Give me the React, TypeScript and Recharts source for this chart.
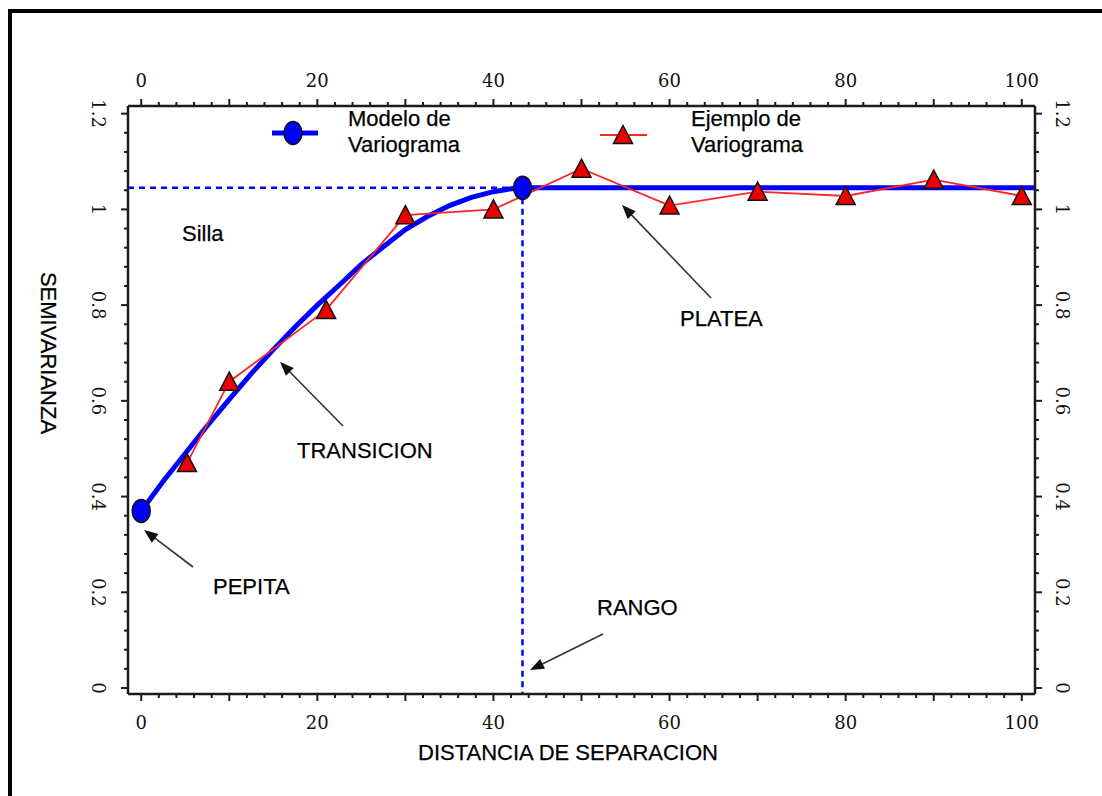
import React from 'react';
import { LineChart, Line, XAxis, YAxis } from 'recharts';

const W = 1102;
const H = 796;

// Spherical model: distance / semivariance
const MODEL_DIST = [0, 2.5, 5, 7.5, 10, 12.5, 15, 17.5, 20, 22.5, 25, 27.5, 30, 32.5, 35, 37.5, 40, 42, 43.3, 101.5];
const MODEL_GAMMA = [0.37, 0.432, 0.49, 0.548, 0.603, 0.657, 0.707, 0.755, 0.8, 0.842, 0.885, 0.922, 0.958, 0.985, 1.008, 1.025, 1.037, 1.043, 1.045, 1.045];
// Points of the model drawn with a circle (nugget and range)
const MODEL_MARKER_DIST = [0, 43.3];

// Experimental variogram
const SAMPLE_DIST = [5.2, 10, 21, 30, 40, 50, 60, 70, 80, 90, 100];
const SAMPLE_GAMMA = [0.47, 0.64, 0.79, 0.988, 1.0, 1.085, 1.008, 1.037, 1.028, 1.062, 1.028];

const SILL = 1.045;
const RANGE = 43.3;

const X_DOMAIN: [number, number] = [-1.5, 101.5];
const Y_DOMAIN: [number, number] = [-0.0125, 1.216];

const X_MAJOR = [0, 10, 20, 30, 40, 50, 60, 70, 80, 90, 100];
const X_LABELS = [0, 20, 40, 60, 80, 100];
const X_MINOR_STEP = 2;
const Y_MAJOR = [0, 0.2, 0.4, 0.6, 0.8, 1, 1.2];
const Y_LABELS = ['0', '0.2', '0.4', '0.6', '0.8', '1', '1.2'];
const Y_MINOR_STEP = 0.04;

const modelData = MODEL_DIST.map((d, i) => ({ d, g: MODEL_GAMMA[i] }));
const sampleData = SAMPLE_DIST.map((d, i) => ({ d, g: SAMPLE_GAMMA[i] }));
const sillData = [
  { d: X_DOMAIN[0], g: SILL },
  { d: RANGE, g: SILL },
];
const rangeData = [
  { d: RANGE, g: SILL },
  { d: RANGE, g: Y_DOMAIN[0] },
];

const buildTicks = (from: number, to: number, step: number) => {
  const out: number[] = [];
  const n = Math.round((to - from) / step);
  for (let i = 0; i <= n; i++) out.push(+(from + i * step).toFixed(6));
  return out;
};
const X_TICKS = buildTicks(X_MAJOR[0], X_MAJOR[X_MAJOR.length - 1], X_MINOR_STEP);
const Y_TICKS = buildTicks(Y_MAJOR[0], Y_MAJOR[Y_MAJOR.length - 1], Y_MINOR_STEP);

const AXIS_COLOR = '#1c1c1c';
const TICK_FONT = '"DejaVu Serif", "Liberation Serif", serif';
const TEXT_FONT = '"Liberation Sans", Arial, sans-serif';
const BLUE = '#0000ff';
const RED = '#ff2626';
const TRI_FILL = '#ee0000';

const near = (a: number, b: number) => Math.abs(a - b) < 1e-6;

const makeXTick = (side: 'top' | 'bottom') => (props: any) => {
  const { x, y, payload } = props;
  const v = payload.value as number;
  const major = X_MAJOR.some((m) => near(m, v));
  const len = major ? 7 : 4;
  const dir = side === 'top' ? -1 : 1;
  const label = X_LABELS.some((m) => near(m, v));
  return (
    <g>
      <line x1={x} y1={y} x2={x} y2={y + dir * len} stroke={AXIS_COLOR} strokeWidth={2} />
      {label && (
        <text
          x={x}
          y={side === 'top' ? y - 19 : y + 35}
          textAnchor="middle"
          fontFamily={TICK_FONT}
          fontSize={18}
          fill="#111"
        >
          {Math.round(v)}
        </text>
      )}
    </g>
  );
};

const makeYTick = (side: 'left' | 'right') => (props: any) => {
  const { x, y, payload } = props;
  const v = payload.value as number;
  const idx = Y_MAJOR.findIndex((m) => near(m, v));
  const major = idx >= 0;
  const len = major ? 7 : 4;
  const dir = side === 'left' ? -1 : 1;
  const cx = side === 'left' ? x - 30 : x + 27;
  return (
    <g>
      <line x1={x} y1={y} x2={x + dir * len} y2={y} stroke={AXIS_COLOR} strokeWidth={2} />
      {major && (
        <text
          x={cx}
          y={y}
          transform={`rotate(90, ${cx}, ${y})`}
          textAnchor="middle"
          dominantBaseline="central"
          fontFamily={TICK_FONT}
          fontSize={18}
          fill="#111"
        >
          {Y_LABELS[idx]}
        </text>
      )}
    </g>
  );
};

const CircleDot = (props: any) => {
  const { cx, cy, payload } = props;
  if (cx == null || cy == null) return null;
  if (!MODEL_MARKER_DIST.some((m) => near(m, payload.d))) return <g key={`c-${payload.d}`} />;
  return <ellipse key={`c-${payload.d}`} cx={cx} cy={cy} rx={9} ry={11.5} fill={BLUE} stroke="#111" strokeWidth={1.5} />;
};

const triPoints = (cx: number, cy: number) =>
  `${cx},${cy - 9.5} ${cx + 9.5},${cy + 8.5} ${cx - 9.5},${cy + 8.5}`;

const TriangleDot = (props: any) => {
  const { cx, cy, payload } = props;
  if (cx == null || cy == null) return null;
  return <polygon key={`t-${payload.d}`} points={triPoints(cx, cy)} fill={TRI_FILL} stroke="#111" strokeWidth={1.5} />;
};

const Arrow = ({ x1, y1, x2, y2 }: { x1: number; y1: number; x2: number; y2: number }) => {
  const dx = x2 - x1;
  const dy = y2 - y1;
  const L = Math.hypot(dx, dy);
  const ux = dx / L;
  const uy = dy / L;
  const head = 14;
  const half = 5.5;
  const bx = x2 - ux * head;
  const by = y2 - uy * head;
  return (
    <g>
      <line x1={x1} y1={y1} x2={bx + ux * 2} y2={by + uy * 2} stroke="#333" strokeWidth={1.6} />
      <polygon
        points={`${x2},${y2} ${bx - uy * half},${by + ux * half} ${bx + uy * half},${by - ux * half}`}
        fill="#111"
      />
    </g>
  );
};

const Label = ({ x, y, children }: { x: number; y: number; children: React.ReactNode }) => (
  <text x={x} y={y} fontFamily={TEXT_FONT} fontSize={22} fill="#000" stroke="#000" strokeWidth={0.25}>
    {children}
  </text>
);

export default function App() {
  return (
    <div
      style={{
        position: 'fixed',
        left: 0,
        top: 0,
        width: W,
        height: H,
        overflow: 'hidden',
        background: '#fff',
      }}
    >
      <div
        style={{
          position: 'absolute',
          left: 8,
          top: 9,
          width: W,
          height: H,
          border: '4px solid #000',
          boxSizing: 'border-box',
        }}
      />
      <div style={{ position: 'absolute', left: 0, top: 0 }}>
        <LineChart width={W} height={H} margin={{ top: 0, right: 0, bottom: 0, left: 0 }}>
          <XAxis
            xAxisId="bottom"
            dataKey="d"
            type="number"
            orientation="bottom"
            domain={X_DOMAIN}
            allowDataOverflow
            ticks={X_TICKS}
            interval={0}
            height={102}
            tickSize={0}
            tickMargin={0}
            tickLine={false}
            tick={makeXTick('bottom')}
            axisLine={{ stroke: AXIS_COLOR, strokeWidth: 2.5 }}
          />
          <XAxis
            xAxisId="top"
            dataKey="d"
            type="number"
            orientation="top"
            domain={X_DOMAIN}
            allowDataOverflow
            ticks={X_TICKS}
            interval={0}
            height={106}
            tickSize={0}
            tickMargin={0}
            tickLine={false}
            tick={makeXTick('top')}
            axisLine={{ stroke: AXIS_COLOR, strokeWidth: 2.5 }}
          />
          <YAxis
            yAxisId="left"
            type="number"
            orientation="left"
            domain={Y_DOMAIN}
            allowDataOverflow
            ticks={Y_TICKS}
            interval={0}
            width={128}
            tickSize={0}
            tickMargin={0}
            tickLine={false}
            tick={makeYTick('left')}
            axisLine={{ stroke: AXIS_COLOR, strokeWidth: 2.5 }}
          />
          <YAxis
            yAxisId="right"
            type="number"
            orientation="right"
            domain={Y_DOMAIN}
            allowDataOverflow
            ticks={Y_TICKS}
            interval={0}
            width={67}
            tickSize={0}
            tickMargin={0}
            tickLine={false}
            tick={makeYTick('right')}
            axisLine={{ stroke: AXIS_COLOR, strokeWidth: 2.5 }}
          />
          <Line
            xAxisId="bottom"
            yAxisId="left"
            data={sillData}
            dataKey="g"
            stroke={BLUE}
            strokeWidth={2.5}
            strokeDasharray="6 5"
            dot={false}
            activeDot={false}
            isAnimationActive={false}
          />
          <Line
            xAxisId="bottom"
            yAxisId="left"
            data={rangeData}
            dataKey="g"
            stroke={BLUE}
            strokeWidth={2.5}
            strokeDasharray="6 4.5"
            dot={false}
            activeDot={false}
            isAnimationActive={false}
          />
          <Line
            xAxisId="bottom"
            yAxisId="left"
            data={modelData}
            dataKey="g"
            type="linear"
            stroke={BLUE}
            strokeWidth={5}
            dot={CircleDot}
            activeDot={false}
            isAnimationActive={false}
          />
          <Line
            xAxisId="bottom"
            yAxisId="left"
            data={sampleData}
            dataKey="g"
            type="linear"
            stroke={RED}
            strokeWidth={1.8}
            dot={TriangleDot}
            activeDot={false}
            isAnimationActive={false}
          />
        </LineChart>
      </div>
      <svg
        width={W}
        height={H}
        style={{ position: 'absolute', left: 0, top: 0, pointerEvents: 'none' }}
      >
        {/* legend */}
        <line x1={272} y1={133} x2={318} y2={133} stroke={BLUE} strokeWidth={5} />
        <ellipse cx={293} cy={133} rx={9} ry={11.5} fill={BLUE} stroke="#111" strokeWidth={1.5} />
        <Label x={348} y={126}>Modelo de</Label>
        <Label x={348} y={152}>Variograma</Label>
        <line x1={600} y1={135} x2={647} y2={135} stroke={RED} strokeWidth={1.8} />
        <polygon points={triPoints(623, 135)} fill={TRI_FILL} stroke="#111" strokeWidth={1.5} />
        <Label x={691} y={126}>Ejemplo de</Label>
        <Label x={691} y={152}>Variograma</Label>

        {/* annotations */}
        <Label x={182} y={241}>Silla</Label>
        <Label x={680} y={326}>PLATEA</Label>
        <Label x={297} y={458}>TRANSICION</Label>
        <Label x={213} y={594}>PEPITA</Label>
        <Label x={597} y={615}>RANGO</Label>
        <Arrow x1={711} y1={298} x2={622} y2={205} />
        <Arrow x1={343} y1={426} x2={280} y2={362} />
        <Arrow x1={193} y1={567} x2={144} y2={530} />
        <Arrow x1={603} y1={634} x2={530} y2={670} />

        {/* axis titles */}
        <text x={568} y={760} textAnchor="middle" fontFamily={TEXT_FONT} fontSize={22} fill="#000" stroke="#000" strokeWidth={0.25}>
          DISTANCIA DE SEPARACION
        </text>
        <text
          x={48}
          y={353}
          transform="rotate(90, 48, 353)"
          textAnchor="middle"
          dominantBaseline="central"
          fontFamily={TEXT_FONT}
          fontSize={22}
          fill="#000"
          stroke="#000"
          strokeWidth={0.25}
        >
          SEMIVARIANZA
        </text>
      </svg>
    </div>
  );
}
